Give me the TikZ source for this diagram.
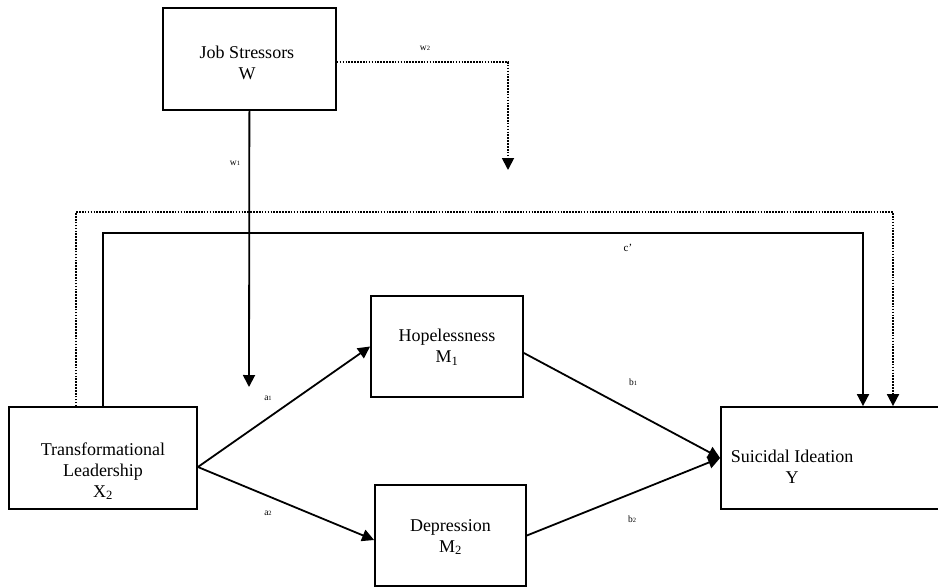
\documentclass[tikz,border=0pt]{standalone}
\usepackage{fontspec}
\setmainfont{Liberation Serif}
\usetikzlibrary{arrows.meta,calc}
\tikzset{
  boxnode/.style={draw,line width=1.8pt,minimum width=#1,inner sep=0pt},
  txt/.style={align=center,inner sep=0pt,font=\fontsize{18}{21}\selectfont},
  lab/.style={inner sep=0pt,font=\fontsize{9.5}{10}\selectfont},
  conn/.style={line width=1.8pt,-{Triangle[length=12pt,width=12pt]}},
  dotconn/.style={conn,dash pattern=on 1.6pt off 1.3pt},
}
\newcommand{\sbs}[1]{{\fontsize{6.5}{7}\selectfont #1}}
\begin{document}
\begin{tikzpicture}[x=1pt,y=-1pt]
\useasboundingbox (0,0) rectangle (938,587);
\begin{scope}
\clip (0,0) rectangle (938,587);
% boxes
\node[boxnode=173pt,minimum height=102pt] (job) at (249.4,59) {};
\node[boxnode=188pt,minimum height=102pt] (tl) at (103,458) {};
\node[boxnode=152pt,minimum height=101pt] (hop) at (447,346.5) {};
\node[boxnode=151pt,minimum height=101pt] (dep) at (450.5,535.5) {};
\node[boxnode=219pt,minimum height=102pt] (y) at (830.5,458) {};
\end{scope}
% texts
\node[txt] (jobt) at (247,63) {Job Stressors\\W};
\node[txt] (tlt) at (103,471) {Transformational\\Leadership\\X\textsubscript{2}};
\node[txt] (hopt) at (447,347) {Hopelessness\\M\textsubscript{1}};
\node[txt] (dept) at (450.5,537) {Depression\\M\textsubscript{2}};
\node[txt] (yt) at (792,467) {Suicidal Ideation\\Y};
% corners and free ends
\coordinate (dotlevel) at (0,212);
\coordinate (sollevel) at (0,233);
\coordinate (w1end) at (249,387);
\coordinate (w2end) at (508,170);
% w paths
\draw[conn] (job.south) -- (w1end);
\draw[dotconn] ([yshift=-3pt]job.east) -| (w2end);
% direct paths
\draw[dotconn] ([xshift=-27pt]tl.north) -- ([xshift=-27pt]tl.north |- dotlevel) -| ([xshift=62.5pt]y.north);
\draw[conn] (tl.north) -- (tl.north |- sollevel) -| ([xshift=32.5pt]y.north);
% mediation
\draw[conn] ([yshift=-9pt]tl.east) -- (hop.west);
\draw[conn] ([yshift=-9pt]tl.east) -- ([yshift=-4.5pt]dep.west);
\draw[conn] ([yshift=-6.5pt]hop.east) -- (y.west);
\draw[conn] (dep.east) -- (y.west);
% labels
\node[lab] (lw1) at (235,163) {w\sbs{1}};
\node[lab] (lw2) at (425,48) {w\sbs{2}};
\node[lab] (la1) at (268,398) {a\sbs{1}};
\node[lab] (la2) at (268,513) {a\sbs{2}};
\node[lab] (lb1) at (633,382) {b\sbs{1}};
\node[lab] (lb2) at (632,519) {b\sbs{2}};
\node[lab,font=\fontsize{11}{12}\selectfont] (lc) at (628,248) {c’};
\end{tikzpicture}
\end{document}
